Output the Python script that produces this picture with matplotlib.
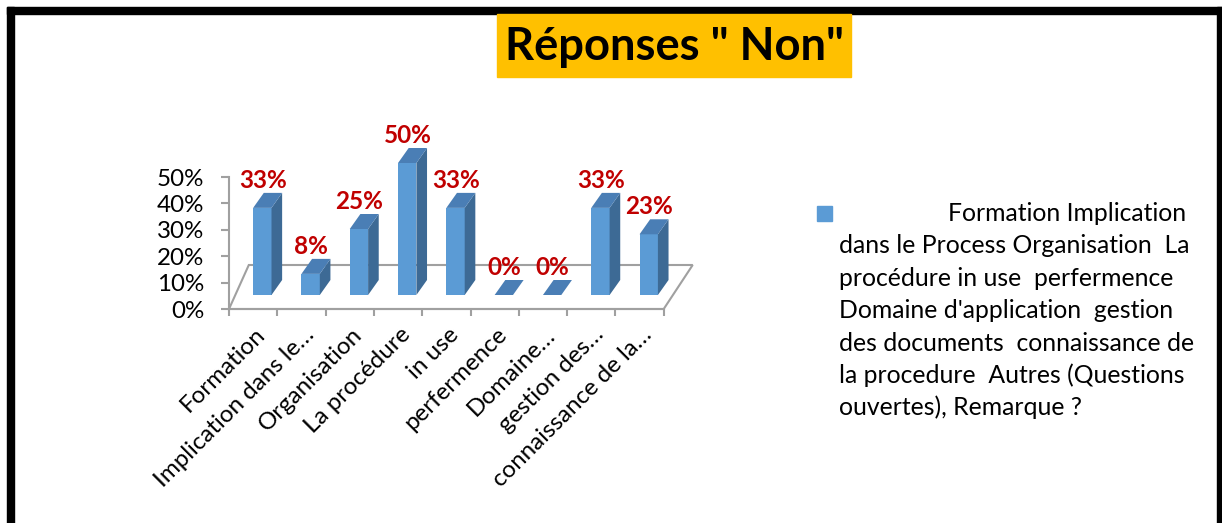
import matplotlib
matplotlib.use("Agg")
import matplotlib.pyplot as plt
from matplotlib.patches import Polygon, Rectangle
from matplotlib.transforms import ScaledTranslation

# données
categories = ["Formation", "Implication dans le…", "Organisation", "La procédure",
              "in use", "perfermence", "Domaine…", "gestion des…", "connaissance de la…"]
values = [33, 8, 25, 50, 33, 0, 0, 33, 23]
y_ticks = [0, 10, 20, 30, 40, 50]
legend_lines = [
    "Formation Implication",
    "dans le Process Organisation  La",
    "procédure in use  perfermence",
    "Domaine d'application  gestion",
    "des documents  connaissance de",
    "la procedure  Autres (Questions",
    "ouvertes), Remarque ?",
]
title = 'Réponses " Non"'

plt.rcParams['font.family'] = ['Lato', 'DejaVu Sans']

W, H = 1222, 523
fig = plt.figure(figsize=(W / 100, H / 100), dpi=100)

def px(x, y):
    # pixels (origine en haut à gauche) -> fraction de figure
    return x / W, 1 - y / H

# cadre noir (haut, gauche, droite)
fig.patches.append(Rectangle(px(7, 14), (1222 - 7) / W, 7 / H, transform=fig.transFigure,
                             color='black', zorder=0))
fig.patches.append(Rectangle(px(7, 523), 7 / W, (523 - 7) / H, transform=fig.transFigure,
                             color='black', zorder=0))
fig.patches.append(Rectangle(px(1217, 523), 5 / W, (523 - 7) / H, transform=fig.transFigure,
                             color='black', zorder=0))

# titre sur fond orange
fig.patches.append(Rectangle(px(497, 77), (851 - 497) / W, (77 - 14) / H,
                             transform=fig.transFigure, color='#FFC000', zorder=1))
tx, ty = px(674, 47)
fig.text(tx, ty, title, ha='center', va='center', fontsize=32.7, fontweight='bold',
         color='black', zorder=2)

# axes : 1 unité x = une catégorie (48.3 px), 10 % = 26.4 px
cat_px = 48.3
unit_px = 2.64
x0, y0 = 229, 309
xmax = 9.2
ymax = 60
ax = fig.add_axes([x0 / W, (H - y0) / H, (xmax + 0.5) * cat_px / W, ymax * unit_px / H])
ax.set_xlim(-0.5, xmax)
ax.set_ylim(0, ymax)
ax.patch.set_visible(False)

axis_grey = '#A0A0A0'
for s in ['top', 'right']:
    ax.spines[s].set_visible(False)
ax.spines['bottom'].set_bounds(-0.5, len(categories) - 0.5)
ax.spines['left'].set_bounds(0, 50)
for s in ['bottom', 'left']:
    ax.spines[s].set_color(axis_grey)
    ax.spines[s].set_linewidth(1.5)

n = len(categories)
ax.set_xticks([i - 0.5 for i in range(n + 1)])
ax.set_xticklabels([])
ax.set_xticks(range(n), minor=True)
ax.set_xticklabels(categories, minor=True, rotation=45, ha='right', va='center',
                   rotation_mode='anchor', fontsize=17.4)
ax.tick_params(axis='x', which='major', length=5, width=1.5, color=axis_grey)
ax.tick_params(axis='x', which='minor', length=0, pad=16)
shift = ScaledTranslation(9 / 100, 0, fig.dpi_scale_trans)
for lab in ax.get_xticklabels(minor=True):
    lab.set_transform(lab.get_transform() + shift)
ax.set_yticks(y_ticks)
ax.set_yticklabels([f"{v}%" for v in y_ticks], fontsize=17.4)
ax.tick_params(axis='y', length=6, width=1.5, color=axis_grey, pad=12)

# plancher en perspective
floor_depth = 44 / unit_px
floor = Polygon([(-0.5, 0), (n - 0.5, 0), (n - 0.5 + 0.6, floor_depth),
                 (-0.5 + 0.41, floor_depth)], closed=True, facecolor='white',
                edgecolor=axis_grey, linewidth=1.5, zorder=1, clip_on=False)
ax.add_patch(floor)

# barres 3D
front_c, side_c, top_c = '#5B9BD5', '#3D6A95', '#4A7EB5'
base = 14 / unit_px
bw = 0.38
dx = 0.22
dy = 15 / unit_px
ax.bar(range(n), values, width=bw, bottom=base, align='edge', color=front_c,
       zorder=3, clip_on=False)
for i, v in enumerate(values):
    top = base + v
    side = Polygon([(i + bw, base), (i + bw + dx, base + dy), (i + bw + dx, top + dy),
                    (i + bw, top)], closed=True, facecolor=side_c, edgecolor='none',
                   zorder=3, clip_on=False)
    cap = Polygon([(i, top), (i + bw, top), (i + bw + dx, top + dy), (i + dx, top + dy)],
                  closed=True, facecolor=top_c, edgecolor='none', zorder=4, clip_on=False)
    ax.add_patch(side)
    ax.add_patch(cap)
    ax.text(i + 0.2, top + dy + 0.5, f"{v}%", ha='center', va='bottom', color='#C00000',
            fontsize=17.5, fontweight='bold', zorder=5, clip_on=False)

# légende
sq = px(817, 221)
fig.patches.append(Rectangle(sq, 15 / W, 15 / H, transform=fig.transFigure,
                             color=front_c, zorder=2))
for k, line in enumerate(legend_lines):
    lx = 948 if k == 0 else 839
    bx, by = px(lx, 221 + k * 32.4)
    fig.text(bx, by, line, ha='left', va='baseline', fontsize=17.8, color='black')

fig.savefig("out.png", dpi=100)
